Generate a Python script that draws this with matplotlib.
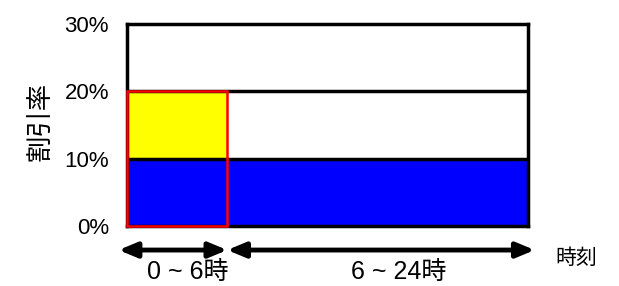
import matplotlib
matplotlib.use("Agg")
import matplotlib.pyplot as plt

plt.rcParams['font.family'] = ['Liberation Sans', 'Noto Sans CJK JP', 'DejaVu Sans']

# data
periods = ["0 ~ 6時", "6 ~ 24時"]
starts = [0, 6]
widths = [6, 18]
base_rate = [0.10, 0.10]       # blue segment
extra_rate = [0.10, 0.0]       # yellow segment
yticks = [0, 0.10, 0.20, 0.30]
yticklabels = ["0%", "10%", "20%", "30%"]

fig = plt.figure(figsize=(6.19, 2.86), dpi=100)
ax = fig.add_axes([127/619, 60/286, 401/619, 202/286])

ax.bar(starts, base_rate, width=widths, align='edge', color='#0000ff', zorder=2)
ax.bar(starts, extra_rate, width=widths, bottom=base_rate, align='edge', color='#ffff00', zorder=2)

ax.set_xlim(0, 24)
ax.set_ylim(0, 0.30)
ax.set_yticks(yticks)
ax.set_yticklabels(yticklabels, fontsize=16)
ax.set_xticks([])
ax.tick_params(axis='y', length=0, pad=13)
for s in ax.spines.values():
    s.set_linewidth(2.5)
    s.set_color('black')
    s.set_zorder(3)
for yv in yticks[1:3]:
    ax.axhline(yv, color='black', lw=2.5, zorder=3)

# red outline around the 0-6h block
total0 = base_rate[0] + extra_rate[0]
ax.add_patch(plt.Rectangle((starts[0], 0), widths[0], total0, fill=False,
                           edgecolor='#ff0000', lw=1.8, zorder=4, clip_on=False))

trans = ax.get_xaxis_transform()
ax.text(-87/401, 0.52, "割引率", transform=ax.transAxes, rotation=90,
        ha='center', va='center', fontsize=19)

arrow_y = -0.119
segs = [(-0.5, 6), (6, 24.4)]
for x0, x1 in segs:
    ax.annotate("", xy=(x1, arrow_y), xytext=(x0, arrow_y), xycoords=trans,
                textcoords=trans,
                arrowprops=dict(arrowstyle='<|-|>,head_length=0.6,head_width=0.25',
                                color='black', lw=3.5,
                                mutation_scale=18, shrinkA=0, shrinkB=0),
                annotation_clip=False)
label_x = [3.62, 16.28]
for lx, lab in zip(label_x, periods):
    ax.text(lx, -0.228, lab, transform=trans, ha='center', va='center', fontsize=18)
ax.text(26.9, -0.16, "時刻", transform=trans, ha='center', va='center', fontsize=15)

fig.savefig("out.png", dpi=100)
